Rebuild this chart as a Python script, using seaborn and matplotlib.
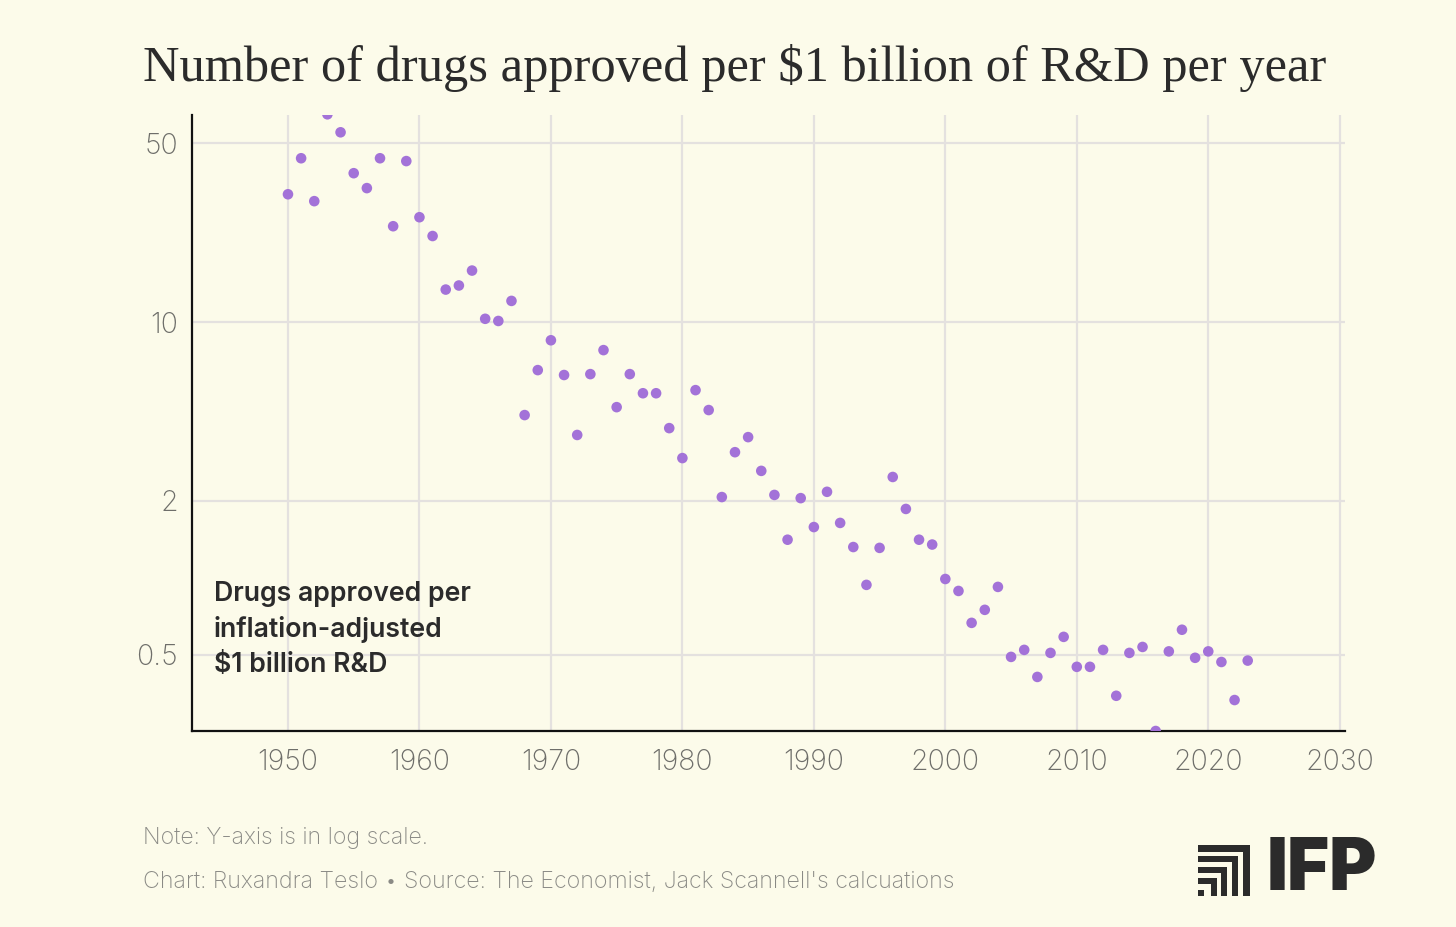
import matplotlib.pyplot as plt
import numpy as np
import pandas as pd
import seaborn as sns
from matplotlib.patches import Rectangle

W, H = 1456, 927

BG = '#FCFBEA'
DOT = '#A372D8'
GRID = '#E4E1DF'
TICK_GREY = '#6E6E6A'
NOTE_GREY = '#8A8A85'
INK = '#2B2B2B'

years = list(range(1950, 2024))
drugs_per_billion = [
    31.6, 43.7, 29.7, 64.9, 55.2, 38.2, 33.4, 43.7, 23.7, 42.6,
    25.7, 21.7, 13.4, 13.9, 15.9, 10.3, 10.1, 12.1, 4.33, 6.49,
    8.49, 6.21, 3.62, 6.26, 7.77, 4.65, 6.26, 5.27, 5.27, 3.85,
    2.94, 5.42, 4.53, 2.07, 3.10, 3.55, 2.62, 2.11, 1.41, 2.05,
    1.58, 2.17, 1.64, 1.32, 0.939, 1.31, 2.48, 1.86, 1.41, 1.35,
    0.99, 0.889, 0.667, 0.750, 0.922, 0.491, 0.523, 0.410, 0.509, 0.588,
    0.449, 0.449, 0.523, 0.346, 0.509, 0.537, 0.252, 0.516, 0.627, 0.487,
    0.516, 0.469, 0.333, 0.475,
]

x_ticks = [1950, 1960, 1970, 1980, 1990, 2000, 2010, 2020, 2030]
y_ticks = [0.5, 2, 10, 50]
y_tick_labels = ['0.5', '2', '10', '50']

title = 'Number of drugs approved per $1 billion of R&D per year'
annotation = 'Drugs approved per\ninflation-adjusted\n$1 billion R&D'
note = 'Note: Y-axis is in log scale.'
credit = "Chart: Ruxandra Teslo \u2022 Source: The Economist, Jack Scannell's calcuations"

df = pd.DataFrame({'year': years, 'value': drugs_per_billion})

sns.set_theme(style='whitegrid')
plt.rcParams['font.family'] = ['Inter', 'DejaVu Sans']
plt.rcParams['figure.facecolor'] = BG
plt.rcParams['axes.facecolor'] = BG


def px(x, y):
    return x / W, 1 - y / H


fig = plt.figure(figsize=(W / 100, H / 100), dpi=100)
left, top = px(192, 115)
right, bottom = px(1345, 731)
ax = fig.add_axes([left, bottom, right - left, top - bottom])

sns.scatterplot(data=df, x='year', y='value', ax=ax, color=DOT, s=58,
                edgecolor='none', linewidth=0, zorder=3)

ax.set_yscale('log')
ax.set_xlim(1942.7, 2030.4)
ax.set_ylim(0.252, 64.5)
ax.set_xticks(x_ticks)
ax.set_yticks(y_ticks)
ax.set_yticklabels(y_tick_labels)
ax.minorticks_off()
ax.set_xlabel('')
ax.set_ylabel('')

ax.grid(True, color=GRID, linewidth=1.6)
ax.set_axisbelow(True)
for side in ['top', 'right']:
    ax.spines[side].set_visible(False)
for side in ['left', 'bottom']:
    ax.spines[side].set_visible(True)
    ax.spines[side].set_color('#111111')
    ax.spines[side].set_linewidth(1.6)
ax.tick_params(axis='both', length=0, labelsize=20.5, colors=TICK_GREY)
ax.tick_params(axis='x', pad=13)
ax.tick_params(axis='y', pad=10)
for lbl in ax.get_xticklabels() + ax.get_yticklabels():
    lbl.set_fontweight('light')

ax.text(0.019, 0.243, annotation, transform=ax.transAxes, fontsize=19.2,
        fontweight='semibold', color=INK, va='top', ha='left',
        linespacing=1.43)

fig.text(*px(143, 68), title, family=['Liberation Serif', 'DejaVu Serif'],
         fontsize=36.4, color=INK, va='center', ha='left')
fig.text(*px(143, 838), note, fontsize=16.6, color=NOTE_GREY, va='center',
         ha='left', fontweight='light')
fig.text(*px(143, 882), credit, fontsize=16.7, color=NOTE_GREY, va='center',
         ha='left', fontweight='light')

# IFP logo: nested corner bars plus wordmark
bars = [
    (1198, 845, 1250, 7),
    (1198, 856, 1238, 6),
    (1198, 867, 1227, 6),
    (1198, 878, 1217, 6),
]
for x0, y0, x1, t in bars:
    fig.add_artist(Rectangle(px(x0, y0 + t), (x1 - x0) / W, t / H,
                             transform=fig.transFigure, color=INK, lw=0))
    fig.add_artist(Rectangle(px(x1 - t, 896), t / W, (896 - y0) / H,
                             transform=fig.transFigure, color=INK, lw=0))
fig.add_artist(Rectangle(px(1198, 896), 6 / W, 6 / H,
                         transform=fig.transFigure, color=INK, lw=0))
fig.text(*px(1267, 871), 'IFP', fontsize=52, fontweight='black', color=INK,
         va='center', ha='left')

fig.savefig('out.png', dpi=100, facecolor=BG)
